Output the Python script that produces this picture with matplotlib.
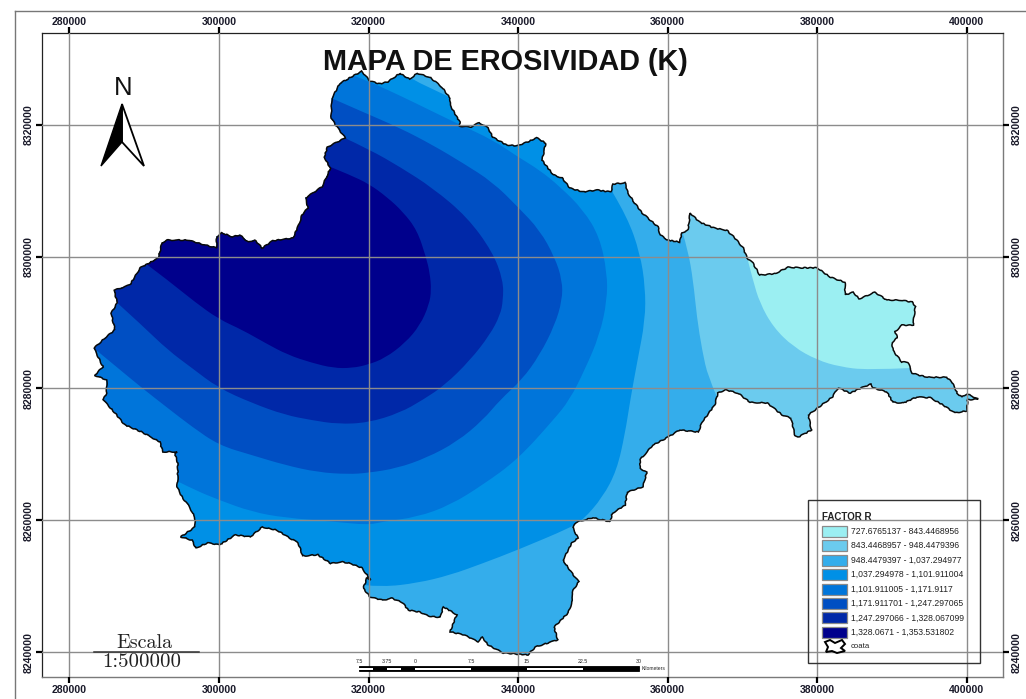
import numpy as np
import matplotlib
matplotlib.use('Agg')
import matplotlib.pyplot as plt
from matplotlib.lines import Line2D
from matplotlib.patches import Polygon, Rectangle, PathPatch
from matplotlib.path import Path
from matplotlib.transforms import Affine2D, blended_transform_factory

plt.rcParams['font.family'] = ['Liberation Sans', 'DejaVu Sans']

# all map coordinates in km (UTM)
coata_e = [319.1, 320.2, 321.5, 322.6, 324.2, 325.5, 326.5, 328.2, 329.8, 330.9, 330.9, 332.2, 332.2, 333.6, 334.8,
           336.0, 336.6, 338.5, 339.9, 341.3, 342.5, 343.7, 343.2, 344.7, 345.9, 346.9, 348.7, 350.5, 352.4, 352.7,
           354.3, 354.7, 355.6, 356.6, 358.7, 359.0, 360.0, 361.6, 361.9, 362.7, 363.0, 364.3, 366.3, 367.9, 369.0,
           370.1, 370.6, 371.4, 372.3, 374.3, 376.1, 377.7, 380.0, 381.7, 383.7, 383.7, 384.8, 385.6, 387.7, 389.3,
           391.1, 392.7, 393.1, 392.8, 391.3, 390.4, 390.7, 390.0, 390.1, 391.3, 392.1, 392.7, 394.7, 397.3, 398.0,
           398.7, 399.3, 400.0, 401.5, 400.1, 400.0, 398.4, 396.8, 395.1, 393.3, 391.5, 390.1, 389.3, 387.4, 387.2,
           386.1, 384.4, 382.8, 382.0, 380.0, 378.8, 379.2, 377.4, 377.0, 376.5, 375.3, 373.3, 371.0, 369.4, 367.7,
           366.7, 366.3, 364.6, 364.1, 361.6, 360.0, 358.0, 356.3, 356.3, 357.2, 356.7, 354.6, 354.3, 352.6, 352.3,
           350.0, 347.9, 347.3, 348.0, 347.2, 346.0, 347.2, 348.1, 347.2, 347.3, 346.7, 344.8, 345.3, 342.3, 341.3,
           338.0, 336.0, 335.2, 334.6, 332.9, 330.9, 331.8, 330.0, 329.6, 328.0, 326.9, 325.3, 324.6, 323.1, 321.9,
           320.2, 319.3, 319.8, 320.3, 319.1, 317.5, 316.5, 314.9, 313.2, 311.2, 310.6, 309.2, 307.8, 305.8, 304.2,
           302.2, 300.1, 298.5, 296.9, 296.4, 294.9, 296.8, 296.8, 296.1, 295.1, 294.4, 294.5, 294.5, 294.1, 294.4,
           292.5, 292.1, 289.7, 287.4, 286.1, 284.5, 285.0, 285.0, 283.4, 284.5, 283.3, 284.8, 286.1, 285.6, 286.4,
           286.0, 288.1, 289.5, 291.9, 292.4, 293.1, 295.9, 297.7, 299.7, 299.7, 300.4, 301.8, 302.8, 303.9, 304.8,
           305.8, 307.2, 309.9, 310.8, 311.1, 311.9, 311.6, 313.8, 314.9, 314.1, 314.5, 316.9, 315.9, 315.0, 315.1,
           316.2]
coata_n = [8328.1, 8326.6, 8326.2, 8326.5, 8327.8, 8326.9, 8327.8, 8327.2, 8325.7, 8324.0, 8323.0, 8320.4, 8319.8,
           8319.6, 8320.3, 8319.5, 8318.1, 8316.9, 8316.8, 8317.4, 8318.0, 8317.2, 8314.6, 8312.4, 8311.9, 8310.4,
           8309.8, 8310.1, 8309.8, 8311.0, 8311.2, 8309.6, 8308.1, 8306.6, 8304.5, 8303.3, 8302.5, 8302.2, 8303.6,
           8304.0, 8306.6, 8305.2, 8304.3, 8304.0, 8302.8, 8301.3, 8299.8, 8299.0, 8297.2, 8297.4, 8298.4, 8298.3,
           8298.3, 8296.9, 8296.1, 8294.2, 8294.6, 8293.6, 8294.6, 8293.4, 8293.4, 8293.1, 8292.4, 8289.6, 8289.6,
           8288.6, 8287.7, 8287.0, 8285.8, 8284.0, 8284.0, 8282.3, 8281.7, 8281.7, 8281.0, 8279.3, 8278.7, 8279.2,
           8278.4, 8278.3, 8276.6, 8276.3, 8277.5, 8278.6, 8278.7, 8277.8, 8277.9, 8279.5, 8280.1, 8280.7, 8280.2,
           8279.3, 8280.1, 8278.7, 8277.0, 8276.0, 8273.7, 8272.6, 8272.9, 8275.5, 8276.0, 8277.8, 8277.9, 8279.3,
           8279.8, 8279.3, 8277.5, 8274.9, 8273.4, 8273.7, 8272.6, 8271.4, 8269.2, 8267.9, 8267.3, 8265.1, 8264.3,
           8262.3, 8261.1, 8259.8, 8260.4, 8259.8, 8259.0, 8257.3, 8256.6, 8254.0, 8252.0, 8250.7, 8249.1, 8247.9,
           8246.0, 8243.8, 8241.9, 8240.8, 8239.6, 8239.9, 8241.1, 8242.3, 8241.6, 8242.6, 8243.1, 8245.7, 8246.9,
           8245.3, 8245.5, 8246.1, 8246.4, 8247.5, 8248.2, 8247.9, 8248.4, 8249.7, 8251.3, 8251.0, 8252.8, 8253.5,
           8253.7, 8253.5, 8254.8, 8254.6, 8256.6, 8257.5, 8258.5, 8259.0, 8257.5, 8257.8, 8256.3, 8256.6, 8255.8,
           8257.0, 8257.5, 8259.0, 8260.4, 8262.0, 8263.5, 8265.1, 8266.1, 8268.7, 8270.2, 8270.4, 8270.4, 8271.9,
           8273.4, 8274.5, 8276.3, 8278.3, 8279.3, 8281.3, 8282.0, 8283.3, 8286.1, 8287.7, 8288.9, 8291.4, 8293.0,
           8294.9, 8295.7, 8298.3, 8299.8, 8302.1, 8302.5, 8302.5, 8301.9, 8301.3, 8303.0, 8303.6, 8303.0, 8303.3,
           8302.2, 8302.5, 8301.3, 8302.4, 8302.8, 8305.1, 8306.3, 8307.4, 8308.9, 8310.6, 8313.4, 8315.1, 8316.6,
           8318.0, 8319.5, 8321.0, 8324.0, 8326.3]

# class areas, each one holds everything at or above its lower limit
zone2_e = [392.4, 386.6, 383.0, 380.0, 376.8, 374.1, 372.3, 371.4, 370.7, 369.7, 369.7, 278.8, 278.8, 404.4, 404.4]
zone2_n = [8283.1, 8282.8, 8283.3, 8284.3, 8286.3, 8289.3, 8293.0, 8296.4, 8299.5, 8303.3, 8331.3, 8331.3, 8234.3,
           8234.3, 8283.1]
zone3_e = [366.6, 365.4, 364.6, 363.9, 363.4, 362.7, 362.0, 360.3, 350.9, 278.8, 278.8, 367.7, 367.0]
zone3_n = [8278.7, 8281.7, 8285.8, 8290.8, 8296.4, 8301.0, 8303.6, 8308.6, 8331.3, 8331.3, 8234.3, 8234.3, 8276.7]
zone4_e = [316.2, 319.3, 321.9, 326.5, 330.9, 335.3, 339.9, 347.2, 348.7, 351.3, 353.2, 354.3, 355.0, 355.9, 357.0,
           357.0, 356.3, 354.6, 352.7, 352.0, 330.6, 326.9, 324.5, 322.9, 278.8, 278.8]
zone4_n = [8247.9, 8250.2, 8249.9, 8250.5, 8251.7, 8253.5, 8255.5, 8259.0, 8260.1, 8263.5, 8267.6, 8273.2, 8278.3,
           8283.9, 8290.4, 8295.4, 8300.5, 8306.0, 8309.6, 8313.1, 8324.3, 8326.3, 8327.8, 8329.8, 8329.8, 8247.9]
zone5_e = [293.5, 294.7, 296.8, 300.0, 304.4, 308.8, 315.5, 319.9, 321.9, 326.5, 330.9, 335.3, 339.9, 344.7, 346.9,
           348.9, 350.9, 351.9, 351.9, 350.9, 348.7, 345.6, 342.9, 340.0, 336.6, 332.2, 328.2, 324.6, 320.2, 317.9,
           316.2, 278.8, 278.8]
zone5_n = [8266.1, 8265.8, 8264.6, 8263.1, 8261.3, 8260.4, 8259.8, 8259.3, 8259.8, 8260.5, 8262.3, 8265.4, 8269.2,
           8275.2, 8278.3, 8282.8, 8288.1, 8293.4, 8297.5, 8303.0, 8307.1, 8310.6, 8313.1, 8315.1, 8317.7, 8320.0,
           8322.2, 8324.2, 8326.5, 8327.5, 8329.8, 8329.8, 8266.1]
zone6_e = [282.1, 283.3, 286.5, 289.7, 293.2, 296.4, 300.0, 304.4, 308.8, 313.2, 317.3, 319.9, 323.8, 327.8, 331.8,
           335.3, 337.6, 340.5, 342.9, 344.9, 345.9, 345.9, 344.9, 342.9, 340.0, 336.6, 332.6, 328.6, 324.2, 319.3,
           315.1, 313.5, 280.1, 280.1]
zone6_n = [8286.6, 8286.1, 8283.1, 8280.1, 8277.0, 8274.2, 8271.4, 8269.9, 8268.4, 8267.3, 8267.0, 8267.2, 8267.9,
           8269.5, 8271.9, 8275.2, 8278.3, 8281.3, 8285.1, 8289.6, 8293.4, 8296.4, 8299.9, 8304.0, 8307.5, 8311.3,
           8314.2, 8316.9, 8319.5, 8321.9, 8324.0, 8325.3, 8308.6, 8286.6]
zone7_e = [284.8, 286.4, 289.7, 293.2, 296.4, 299.9, 304.4, 308.8, 312.4, 315.9, 319.9, 324.2, 327.3, 330.2, 333.6,
           336.2, 337.6, 338.0, 338.0, 336.6, 333.2, 328.6, 324.2, 320.2, 316.6, 315.5, 313.5, 282.8]
zone7_n = [8294.2, 8293.0, 8289.6, 8285.8, 8283.1, 8280.1, 8277.8, 8276.0, 8275.2, 8274.6, 8274.8, 8276.3, 8278.3,
           8280.5, 8284.3, 8288.1, 8291.1, 8293.4, 8296.4, 8300.7, 8306.0, 8310.4, 8313.6, 8316.2, 8318.1, 8320.0,
           8320.7, 8308.6]
zone8_e = [288.1, 290.5, 293.2, 296.8, 300.0, 303.1, 306.2, 309.2, 312.4, 315.3, 317.8, 319.9, 322.2, 324.9, 326.9,
           328.1, 328.4, 328.2, 327.7, 326.5, 324.6, 322.5, 320.1, 317.5, 314.9, 313.5, 289.5]
zone8_n = [8300.2, 8298.7, 8296.4, 8293.1, 8290.5, 8288.9, 8286.9, 8285.1, 8283.9, 8283.1, 8283.1, 8283.6, 8284.6,
           8286.9, 8289.6, 8292.7, 8294.9, 8297.5, 8299.9, 8304.0, 8306.8, 8309.0, 8311.0, 8312.4, 8313.6, 8316.2,
           8308.6]

zone_colors = ['#9BEFF2', '#6BCBEE', '#34ADEB', '#0090E6', '#0075DA', '#004FC3', '#0028A8', '#00008C']
zone_labels = ['727.6765137 - 843.4468956', '843.4468957 - 948.4479396', '948.4479397 - 1,037.294977',
               '1,037.294978 - 1,101.911004', '1,101.911005 - 1,171.9117', '1,171.911701 - 1,247.297065',
               '1,247.297066 - 1,328.067099', '1,328.0671 - 1,353.531802']

x_ticks = [280000, 300000, 320000, 340000, 360000, 380000, 400000]
y_ticks = [8240000, 8260000, 8280000, 8300000, 8320000]
scale_labels = ['7.5', '3.75', '0', '7.5', '15', '22.5', '30']


def zone_path(east, north, first, last):
    # rounds the class line between index first and last, the rest stays straight
    v = np.column_stack([east, north]) * 1000.0
    verts = [v[0]]
    codes = [Path.MOVETO]
    for i in range(1, first + 1):
        verts.append(v[i])
        codes.append(Path.LINETO)
    for i in range(first + 1, last):
        end = v[last] if i == last - 1 else (v[i] + v[i + 1]) / 2
        verts += [v[i], end]
        codes += [Path.CURVE3, Path.CURVE3]
    for i in range(last + 1, len(v)):
        verts.append(v[i])
        codes.append(Path.LINETO)
    verts.append(v[0])
    codes.append(Path.CLOSEPOLY)
    return Path(verts, codes)


W, H = 1026, 699
fig = plt.figure(figsize=(W / 100, H / 100), dpi=100)
ax = fig.add_axes([42 / W, 1 - 677 / H, 961 / W, 644 / H])
ax.set_xlim(276350, 404826)
ax.set_ylim(8236254, 8333904)

# pixel positions of the reference for the furniture around the map
pix = Affine2D().scale(1, -1).translate(0, H)
x_pix = blended_transform_factory(ax.transData, pix)
y_pix = blended_transform_factory(pix, ax.transData)

outline = np.column_stack([coata_e, coata_n]) * 1000
base = Polygon(outline, closed=True, facecolor=zone_colors[0], edgecolor='none', zorder=1)
ax.add_patch(base)

zones = [(zone2_e, zone2_n, 0, 8), (zone3_e, zone3_n, 0, 6), (zone4_e, zone4_n, 1, 18), (zone5_e, zone5_n, 1, 29),
         (zone6_e, zone6_n, 1, 30), (zone7_e, zone7_n, 1, 24), (zone8_e, zone8_n, 1, 24)]
for i, (ze, zn, first, last) in enumerate(zones):
    p = PathPatch(zone_path(ze, zn, first, last), facecolor=zone_colors[i + 1], edgecolor='none',
                  zorder=1.1 + i * 0.01)
    ax.add_patch(p)
    p.set_clip_path(base)

coast = Polygon(outline, closed=True, fill=False, edgecolor='#0a0a0a', linewidth=1.1, zorder=1.5)
coast.set_sketch_params(scale=0.45, length=9, randomness=3)
ax.add_patch(coast)

# ticks and grid, top and right labels sit at their own distance
ax.set_xticks(x_ticks)
ax.set_yticks(y_ticks)
ax.set_xticklabels([str(v) for v in x_ticks], fontsize=7.6, fontweight='bold', color='#1a1a2a')
ax.set_yticklabels([str(v) for v in y_ticks], fontsize=7.6, fontweight='bold', color='#1a1a2a',
                   rotation=90, va='center')
ax.tick_params(axis='x', top=True, bottom=True, length=4.5, width=1.6, color='black', pad=1.2)
ax.tick_params(axis='y', left=True, right=True, length=4.5, width=1.6, color='black', pad=1.2)
for v in x_ticks:
    ax.text(v, 22, str(v), transform=x_pix, ha='center', va='center', fontsize=7.6, fontweight='bold',
            color='#1a1a2a', clip_on=False)
for v in y_ticks:
    ax.text(1017, v, str(v), transform=y_pix, ha='center', va='center', rotation=90, fontsize=7.6,
            fontweight='bold', color='#1a1a2a', clip_on=False)
ax.grid(True, color='#8c8c8c', linewidth=1.0)
ax.set_axisbelow(False)
for side in ['left', 'top']:
    ax.spines[side].set_color('#222222')
    ax.spines[side].set_linewidth(0.9)
for side in ['right', 'bottom']:
    ax.spines[side].set_color('#7a7a7a')
    ax.spines[side].set_linewidth(1.0)

# outer neatline, only top and left show
fig.add_artist(Line2D([15, 1026], [11, 11], transform=pix, color='#777777', linewidth=1.0))
fig.add_artist(Line2D([15, 15], [11, 699], transform=pix, color='#777777', linewidth=1.0))

ax.text(505, 62, 'MAPA DE EROSIVIDAD (K)', transform=pix, ha='center', va='center',
        fontsize=20.8, fontweight='bold', color='#111111', zorder=5)

# north arrow
ax.text(123, 88, 'N', transform=pix, ha='center', va='center', fontsize=18.5, color='#111111', zorder=5)
ax.add_patch(Polygon([(122, 104), (144, 166), (122, 142)], closed=True, transform=pix, facecolor='white',
                     edgecolor='black', linewidth=1.3, zorder=5))
ax.add_patch(Polygon([(122, 104), (101, 166), (122, 142)], closed=True, transform=pix, facecolor='black',
                     edgecolor='black', linewidth=1.0, zorder=5))

# written scale
ax.text(144.5, 643, 'Escala', transform=pix, ha='center', va='center', family='cmr10', fontsize=14.5,
        color='#222222', zorder=5)
ax.add_line(Line2D([94, 199], [652.3, 652.3], transform=pix, color='#333333', linewidth=1.1, zorder=5))
ax.text(142, 662, '1:500000', transform=pix, ha='center', va='center', family='cmr10', fontsize=15,
        color='#222222', zorder=5)

# scale bar
bar_x = [359, 373, 387, 401, 415, 471, 527, 583, 639]
ax.add_patch(Rectangle((359, 666), 280, 5, transform=pix, facecolor='black', edgecolor='black',
                       linewidth=0.6, zorder=5))
for a, b in zip(bar_x[:-1:2], bar_x[1::2]):
    ax.add_patch(Rectangle((a, 667.5), b - a, 2, transform=pix, facecolor='white', edgecolor='none', zorder=5.1))
for xp, lab in zip([359, 387, 415, 471, 527, 583, 639], scale_labels):
    ax.text(xp, 661.5, lab, transform=pix, ha='center', va='center', fontsize=3.8, color='#222222', zorder=5)
ax.text(642, 669, 'Kilometers', transform=pix, ha='left', va='center', fontsize=3.6, color='#222222', zorder=5)

# legend, the grid shows through it
ax.add_patch(Rectangle((808, 500), 172, 163, transform=pix, facecolor='none', edgecolor='#333333',
                       linewidth=1.0, zorder=4))
ax.text(822, 517, 'FACTOR R', transform=pix, ha='left', va='center', fontsize=7, fontweight='bold',
        color='#222222', zorder=5)
for i, (col, lab) in enumerate(zip(zone_colors, zone_labels)):
    y0 = 526 + i * 14.4
    ax.add_patch(Rectangle((822, y0), 25, 11, transform=pix, facecolor=col, edgecolor='#8a8a8a',
                           linewidth=0.9, zorder=5))
    ax.text(851, y0 + 5.5, lab, transform=pix, ha='left', va='center', fontsize=6.25, color='#222222', zorder=5)
ax.add_patch(Polygon([(825, 642), (830, 640), (835, 643), (842, 640), (845, 644), (841, 648), (845, 651), (837, 653),
                      (832, 651), (826, 652), (828, 647)], closed=True, transform=pix, facecolor='white',
                     edgecolor='black', linewidth=1.4, zorder=5))
ax.text(851, 646.5, 'coata', transform=pix, ha='left', va='center', fontsize=5.6, color='#222222', zorder=5)

fig.savefig('out.png', dpi=100)
